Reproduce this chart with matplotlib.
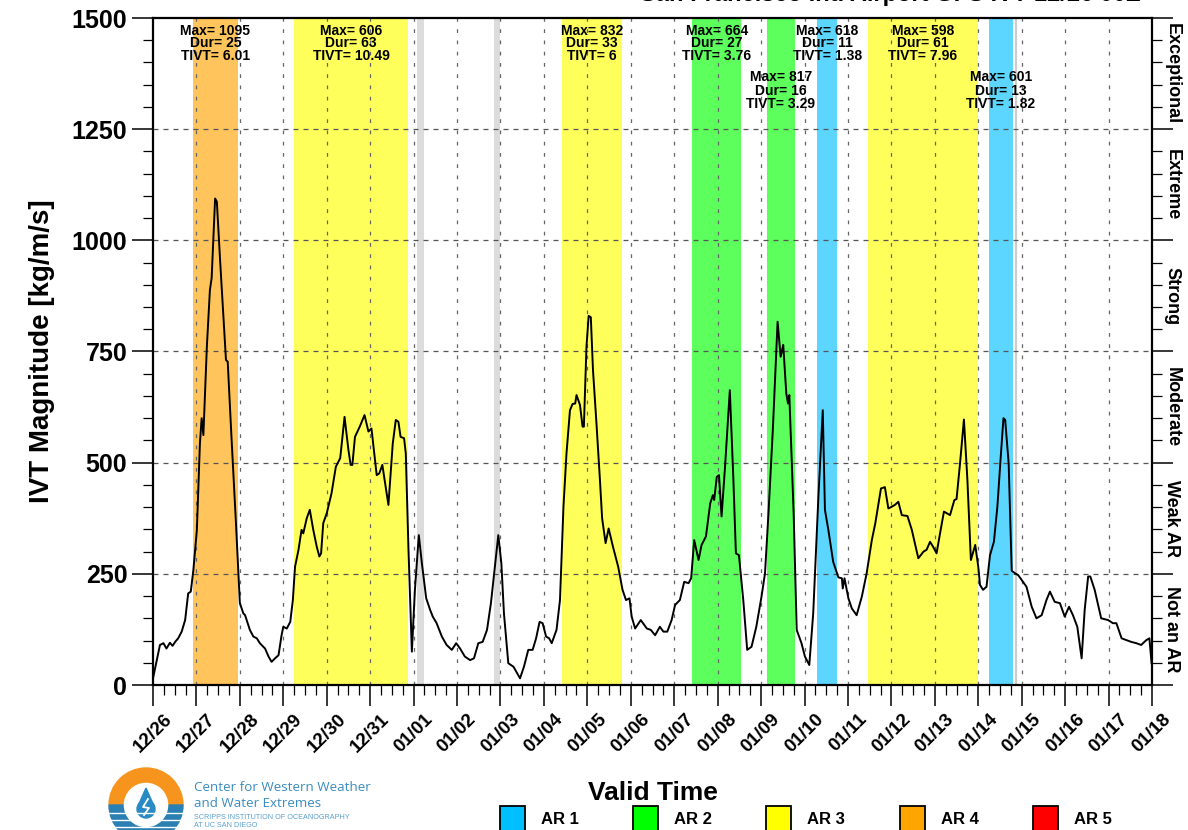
import matplotlib
matplotlib.use('Agg')
import matplotlib.pyplot as plt
from matplotlib.patches import Wedge, Rectangle, Circle, Polygon
from matplotlib.ticker import MultipleLocator

plt.rcParams['font.family'] = ['Liberation Sans', 'DejaVu Sans']
plt.rcParams['font.weight'] = 'bold'
plt.rcParams['axes.labelweight'] = 'bold'

# IVT time series, days since 12/26 00Z and kg/m/s
days = [0.00, 0.16, 0.24, 0.31, 0.39, 0.45, 0.51, 0.58, 0.66, 0.74, 0.81, 0.87, 0.93, 1.01,
        1.08, 1.12, 1.16, 1.24, 1.31, 1.35, 1.43, 1.47, 1.54, 1.62, 1.68, 1.72, 1.81, 1.91,
        2.00, 2.08, 2.12, 2.23, 2.31, 2.39, 2.46, 2.58, 2.66, 2.73, 2.81, 2.89, 2.96, 3.00,
        3.08, 3.16, 3.22, 3.27, 3.35, 3.42, 3.46, 3.54, 3.61, 3.69, 3.77, 3.83, 3.87, 3.92,
        4.00, 4.11, 4.21, 4.31, 4.41, 4.50, 4.55, 4.59, 4.65, 4.76, 4.87, 4.96, 5.03, 5.15,
        5.21, 5.28, 5.42, 5.52, 5.59, 5.65, 5.70, 5.78, 5.82, 5.88, 5.96, 6.03, 6.12, 6.19,
        6.29, 6.38, 6.44, 6.53, 6.65, 6.76, 6.88, 6.98, 7.07, 7.18, 7.30, 7.39, 7.49, 7.59,
        7.69, 7.78, 7.88, 7.95, 8.02, 8.08, 8.18, 8.30, 8.45, 8.54, 8.64, 8.74, 8.82, 8.90,
        8.97, 9.05, 9.12, 9.18, 9.29, 9.37, 9.45, 9.52, 9.60, 9.66, 9.72, 9.75, 9.83, 9.89,
        9.92, 9.98, 10.03, 10.08, 10.13, 10.21, 10.29, 10.34, 10.42, 10.49, 10.59, 10.71,
        10.81, 10.89, 10.97, 11.02, 11.10, 11.23, 11.37, 11.46, 11.56, 11.67, 11.75, 11.84,
        11.94, 12.02, 12.13, 12.23, 12.33, 12.39, 12.46, 12.56, 12.63, 12.73, 12.83, 12.89,
        12.92, 12.98, 13.03, 13.09, 13.17, 13.28, 13.36, 13.42, 13.49, 13.59, 13.68, 13.78,
        13.89, 14.01, 14.09, 14.17, 14.27, 14.38, 14.45, 14.51, 14.58, 14.62, 14.65, 14.75,
        14.82, 14.93, 15.01, 15.11, 15.20, 15.32, 15.42, 15.47, 15.55, 15.66, 15.78, 15.86,
        15.88, 15.92, 16.01, 16.09, 16.20, 16.32, 16.43, 16.55, 16.63, 16.76, 16.85, 16.93,
        17.01, 17.08, 17.16, 17.24, 17.37, 17.47, 17.62, 17.74, 17.81, 17.89, 17.96, 18.04,
        18.12, 18.21, 18.35, 18.45, 18.50, 18.58, 18.67, 18.75, 18.83, 18.93, 19.00, 19.04,
        19.11, 19.19, 19.27, 19.36, 19.44, 19.52, 19.58, 19.62, 19.70, 19.77, 19.85, 19.92,
        20.00, 20.11, 20.23, 20.34, 20.46, 20.57, 20.65, 20.76, 20.88, 20.99, 21.09, 21.18,
        21.28, 21.38, 21.45, 21.53, 21.58, 21.68, 21.83, 21.99, 22.10, 22.18, 22.30, 22.41,
        22.52, 22.64, 22.75, 22.87, 22.94, 22.99]
ivt = [15, 90, 94, 82, 95, 88, 97, 105, 120, 146, 206, 210, 259, 349,
       543, 600, 562, 761, 888, 915, 1094, 1087, 963, 828, 731, 727, 551, 364,
       184, 161, 157, 124, 109, 105, 94, 82, 64, 52, 60, 67, 112, 131,
       127, 142, 191, 266, 304, 349, 341, 375, 394, 349, 311, 289, 296, 364,
       386, 431, 491, 510, 603, 528, 495, 495, 558, 581, 607, 570, 577, 472,
       476, 495, 405, 543, 596, 592, 558, 555, 521, 311, 75, 214, 337, 274,
       195, 169, 154, 139, 109, 90, 79, 94, 82, 64, 56, 60, 94, 97,
       124, 184, 274, 337, 274, 161, 49, 41, 15, 41, 79, 79, 105, 142,
       139, 109, 105, 94, 124, 191, 401, 521, 618, 632, 633, 652, 630, 581,
       581, 761, 830, 827, 708, 588, 461, 375, 319, 352, 311, 266,
       214, 191, 195, 154, 127, 146, 127, 124, 112, 131, 120, 120,
       146, 180, 191, 232, 229, 240, 326, 281, 315, 334, 409, 427,
       416, 468, 472, 379, 491, 663, 468, 296, 292, 191, 79, 86,
       131, 199, 251, 386, 573, 817, 738, 765, 656, 633, 652, 386,
       124, 94, 64, 45, 161, 424, 618, 394, 348, 277, 242, 240,
       217, 240, 195, 172, 157, 199, 251, 326, 364, 442, 445, 397,
       401, 405, 412, 382, 380, 349, 285, 300, 304, 322, 311, 296,
       341, 390, 382, 416, 418, 498, 597, 461, 281, 315, 266, 225,
       214, 221, 292, 322, 401, 517, 600, 596, 498, 257, 251, 247,
       236, 221, 176, 150, 157, 191, 210, 187, 184, 154, 176, 157,
       131, 60, 169, 244, 244, 214, 150, 146, 139, 139, 105, 101,
       97, 94, 90, 101, 105, 49]

# AR events (hours since 12/26 00Z)
ar_start = [22, 78, 226, 298, 339, 367, 395, 462]
ar_dur = [25, 63, 33, 27, 16, 11, 61, 13]
ar_max = [1095, 606, 832, 664, 817, 618, 598, 601]
ar_tivt = ['6.01', '10.49', '6', '3.76', '3.29', '1.38', '7.96', '1.82']
ar_cat = [4, 3, 3, 2, 2, 1, 3, 1]
gray_spans = [(146, 149.5), (188.5, 192)]
init_hour = 477

date_labels = ['12/26', '12/27', '12/28', '12/29', '12/30', '12/31', '01/01', '01/02',
               '01/03', '01/04', '01/05', '01/06', '01/07', '01/08', '01/09', '01/10',
               '01/11', '01/12', '01/13', '01/14', '01/15', '01/16', '01/17', '01/18']
ar_colors = ['#00bfff', '#00ff00', '#ffff00', '#ffa500', '#ff0000']
cat_names = ['Not an AR', 'Weak AR', 'Moderate', 'Strong', 'Extreme', 'Exceptional']

W, H = 1188, 830
fig = plt.figure(figsize=(W / 100, H / 100), dpi=100)
ax = fig.add_axes([153 / W, 145 / H, 999 / W, 667 / H])

# AR shading
for s, d, c in zip(ar_start, ar_dur, ar_cat):
    ax.axvspan(s / 24, (s + d) / 24, color=ar_colors[c - 1], alpha=0.64, lw=0, zorder=1)
for a, b in gray_spans:
    ax.axvspan(a / 24, b / 24, color='#dcdcdc', lw=0, zorder=1)
ax.axvline(init_hour / 24, color='#cccccc', lw=1.6, zorder=1)

# grid
for yv in range(250, 1500, 250):
    ax.axhline(yv, color='#555555', lw=0.9, dashes=(4, 4), zorder=2)
for xv in range(1, 23):
    ax.axvline(xv, color='#666666', lw=0.9, dashes=(3, 6), zorder=2)

ax.plot(days, ivt, color='black', lw=1.4, zorder=5)

ax.set_xlim(0, 23)
ax.set_ylim(0, 1500)
ax.set_xticks(range(24))
ax.set_xticklabels(date_labels, rotation=45, ha='center', fontsize=13.5)
ax.xaxis.set_minor_locator(MultipleLocator(0.25))
ax.set_yticks(range(0, 1501, 250))
ax.yaxis.set_minor_locator(MultipleLocator(50))
ax.tick_params(axis='y', labelsize=18)
ax.tick_params(which='major', direction='out', length=15, width=1.1, right=True)
ax.tick_params(which='minor', direction='out', length=7, width=0.9, right=True)
for sp in ax.spines.values():
    sp.set_linewidth(1.6)

ax.set_ylabel('IVT Magnitude [kg/m/s]', fontsize=20, labelpad=12)
ax.set_xlabel('Valid Time', fontsize=19, labelpad=18)

# category labels on right side
ytr = ax.get_yaxis_transform()
for i, name in enumerate(cat_names):
    ax.text(1.02, i * 250 + 125, name, transform=ytr, rotation=-90,
            ha='center', va='center', fontsize=13)

# event annotations
xtr = ax.get_xaxis_transform()
rows_y = [[0.9805, 0.962, 0.943], [0.911, 0.891, 0.871]]
last_top = -99
for s, d, m, tv in zip(ar_start, ar_dur, ar_max, ar_tivt):
    xc = (s + d / 2) / 24
    row = 0
    if xc - last_top < 2.0:
        row = 1
    else:
        last_top = xc
    for txt, yy in zip(['Max= %d' % m, 'Dur= %d' % d, 'TIVT= ' + tv], rows_y[row]):
        ax.text(xc, yy, txt, transform=xtr, ha='center', va='center',
                fontsize=10, zorder=6)

# title (cut off at top of the image)
fig.text(1140 / W, 1 - 1 / H, 'San Francisco Intl Airport GFS IVT 12/26 00Z',
         ha='right', va='baseline', fontsize=17)

# legend boxes
for i in range(5):
    x0 = 500 + 133.2 * i
    fig.patches.append(Rectangle((x0 / W, -1 / H), 25 / W, 25 / H, transform=fig.transFigure,
                                 facecolor=ar_colors[i], edgecolor='black', lw=1.3))
    fig.text((x0 + 41) / W, 11 / H, 'AR %d' % (i + 1), ha='left', va='center', fontsize=12)

# CW3E logo
lax = fig.add_axes([100 / W, -20 / H, 100 / W, 90 / H])
lax.set_xlim(100, 200)
lax.set_ylim(-20, 70)
lax.axis('off')
cx, cy = 146, 25
lax.add_patch(Wedge((cx, cy), 37, 0, 180, width=14, color='#f7941d'))
lax.add_patch(Wedge((cx, cy), 37, 180, 360, width=14, color='#2a7fb3'))
for yy in [17, 10, 3, -4, -11]:
    lax.plot([105, 187], [yy, yy], color='white', lw=1.0)
lax.add_patch(Circle((cx, cy - 4), 9, color='#2a8ac4'))
lax.add_patch(Polygon([(cx - 8, cy - 1), (cx + 8, cy - 1), (cx, cy + 17)], color='#2a8ac4'))
lax.plot([cx + 2, cx - 3, cx + 3, cx - 2], [cy + 6, cy - 2, cy - 3, cy - 10], color='white', lw=1.3)

fig.text(194 / W, (H - 787) / H, 'Center for Western Weather', fontsize=9.6,
         fontweight='normal', color='#3a8cc1', family=['Open Sans', 'DejaVu Sans'], va='center')
fig.text(194 / W, (H - 803) / H, 'and Water Extremes', fontsize=9.6,
         fontweight='normal', color='#3a8cc1', family=['Open Sans', 'DejaVu Sans'], va='center')
fig.text(194 / W, (H - 817) / H, 'SCRIPPS INSTITUTION OF OCEANOGRAPHY', fontsize=5.2,
         fontweight='normal', color='#5aa0cf', va='center')
fig.text(194 / W, (H - 825.5) / H, 'AT UC SAN DIEGO', fontsize=5.2,
         fontweight='normal', color='#5aa0cf', va='center')

fig.savefig('out.png', dpi=100)
